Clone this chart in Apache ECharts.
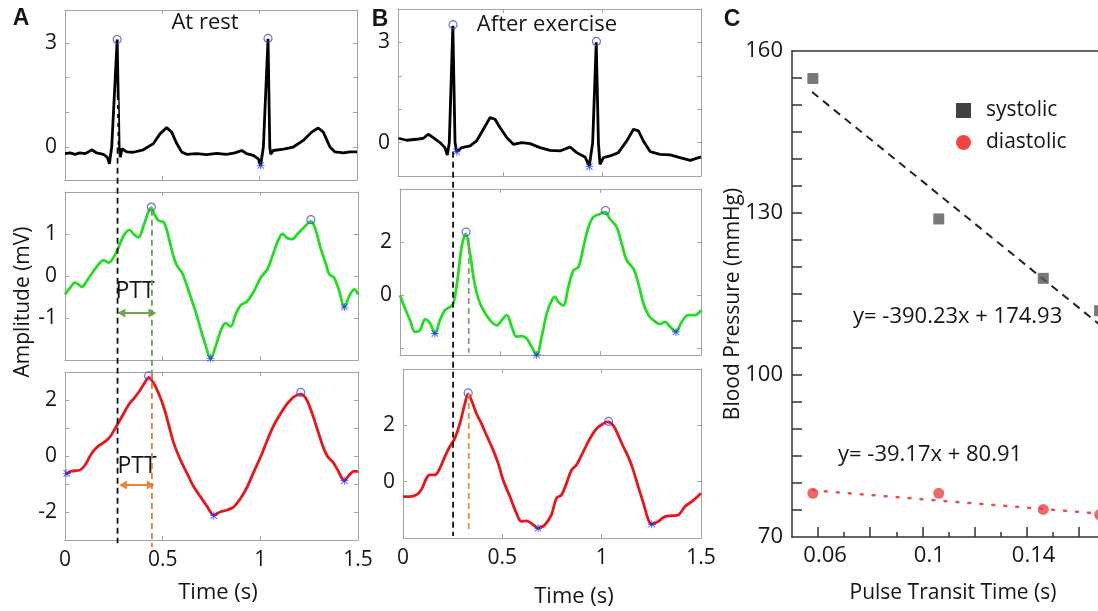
<!DOCTYPE html>
<html><head><meta charset="utf-8">
<script src="https://cdn.jsdelivr.net/npm/echarts@6/dist/echarts.min.js"></script>
<style>html,body{margin:0;padding:0;background:#fff}#c{width:1098px;height:611px}</style>
</head><body><div id="c"></div><script>
// ---------------- DATA ----------------
// Panel A – at rest  [time s, amplitude mV]
const ecgRest = [[0,-0.19],[0.026,-0.17],[0.051,-0.21],[0.077,-0.17],[0.103,-0.19],[0.12,-0.14],[0.137,-0.08],[0.163,-0.17],[0.197,-0.21],[0.217,-0.29],[0.228,-0.48],[0.24,0],[0.268,3.1],[0.278,0],[0.284,-0.29],[0.293,-0.05],[0.317,-0.14],[0.351,-0.15],[0.402,-0.08],[0.454,0.1],[0.488,0.38],[0.522,0.56],[0.548,0.43],[0.574,0.1],[0.599,-0.14],[0.625,-0.21],[0.676,-0.19],[0.728,-0.22],[0.779,-0.18],[0.83,-0.21],[0.873,-0.17],[0.908,-0.1],[0.933,-0.19],[0.967,-0.24],[0.993,-0.34],[1.005,-0.53],[1.019,0],[1.043,3.12],[1.052,0],[1.057,-0.21],[1.07,-0.1],[1.122,-0.06],[1.173,0],[1.224,0.19],[1.267,0.43],[1.301,0.55],[1.327,0.43],[1.361,0],[1.387,-0.14],[1.43,-0.17],[1.464,-0.14],[1.5,-0.14]];
const ecgRestPeaks = [[0.268,3.1],[1.043,3.13]];
const ecgRestStars = [[1.005,-0.53]];
const ppgRest = [[0,-0.44],[0.026,-0.28],[0.051,-0.16],[0.068,-0.2],[0.086,-0.26],[0.111,-0.12],[0.146,0.12],[0.18,0.32],[0.197,0.38],[0.223,0.32],[0.248,0.44],[0.274,0.68],[0.3,0.96],[0.33,1.1],[0.351,1.0],[0.377,0.92],[0.402,1.2],[0.442,1.62],[0.457,1.48],[0.479,1.32],[0.505,1.28],[0.522,1.08],[0.539,0.76],[0.557,0.44],[0.574,0.24],[0.599,0.08],[0.616,-0.12],[0.642,-0.48],[0.668,-0.84],[0.693,-1.24],[0.719,-1.64],[0.745,-1.96],[0.771,-1.68],[0.796,-1.32],[0.822,-1.12],[0.848,-1.2],[0.873,-0.92],[0.899,-0.7],[0.933,-0.6],[0.967,-0.36],[1.002,-0.04],[1.036,0.16],[1.062,0.48],[1.087,0.8],[1.113,1.0],[1.139,0.9],[1.164,0.88],[1.19,1.0],[1.224,1.16],[1.259,1.3],[1.284,1.08],[1.31,0.64],[1.336,0.28],[1.353,0.04],[1.378,-0.04],[1.404,-0.36],[1.43,-0.74],[1.455,-0.48],[1.481,-0.32],[1.5,-0.44]];
const ppgRestPeaks = [[0.442,1.64],[1.259,1.34]];
const ppgRestStars = [[0.745,-1.96],[1.43,-0.74]];
const redRest = [[0,-0.62],[0.009,-0.62],[0.034,-0.54],[0.077,-0.5],[0.103,-0.32],[0.137,0.1],[0.171,0.36],[0.205,0.51],[0.231,0.69],[0.257,0.99],[0.291,1.4],[0.325,1.82],[0.36,2.12],[0.385,2.36],[0.411,2.65],[0.428,2.81],[0.454,2.6],[0.479,2.24],[0.505,1.76],[0.531,1.11],[0.557,0.45],[0.591,-0.14],[0.625,-0.62],[0.659,-1.1],[0.693,-1.45],[0.728,-1.81],[0.762,-2.11],[0.796,-1.99],[0.83,-1.93],[0.865,-1.81],[0.899,-1.51],[0.933,-1.1],[0.967,-0.56],[1.002,-0.02],[1.036,0.57],[1.07,1.11],[1.104,1.52],[1.139,1.88],[1.173,2.12],[1.207,2.21],[1.233,2.06],[1.259,1.64],[1.293,0.93],[1.318,0.39],[1.344,-0.02],[1.37,-0.2],[1.396,-0.5],[1.43,-0.88],[1.455,-0.68],[1.481,-0.54],[1.5,-0.56]];
const redRestPeaks = [[0.428,2.86],[1.207,2.27]];
const redRestStars = [[0.009,-0.62],[0.762,-2.13],[1.43,-0.88]];

// Panel B – after exercise
const ecgEx = [[-0.028,0.13],[0.014,0.07],[0.064,0.1],[0.098,0.13],[0.123,0.25],[0.148,0.15],[0.182,0],[0.207,-0.15],[0.219,-0.37],[0.229,0],[0.247,3.5],[0.258,0],[0.266,-0.27],[0.292,-0.15],[0.334,-0.1],[0.367,0.05],[0.401,0.4],[0.435,0.75],[0.46,0.7],[0.485,0.45],[0.519,0.15],[0.552,-0.05],[0.595,0],[0.637,-0.03],[0.687,-0.15],[0.738,-0.23],[0.788,-0.25],[0.839,-0.13],[0.872,-0.3],[0.914,-0.43],[0.936,-0.7],[0.953,0],[0.971,3.0],[0.982,0],[0.99,-0.65],[1.007,-0.45],[1.041,-0.4],[1.083,-0.3],[1.125,0.05],[1.159,0.4],[1.184,0.35],[1.209,0.05],[1.243,-0.27],[1.293,-0.35],[1.344,-0.37],[1.394,-0.45],[1.445,-0.53],[1.5,-0.43]];
const ecgExPeaks = [[0.248,3.53],[0.972,3.03]];
const ecgExStars = [[0.266,-0.27],[0.936,-0.72]];
const ppgEx = [[0,0],[0.025,-0.5],[0.05,-0.94],[0.075,-1.38],[0.1,-1.31],[0.125,-0.91],[0.15,-1.06],[0.174,-1.44],[0.199,-0.94],[0.224,-0.56],[0.249,-0.44],[0.266,-0.31],[0.286,0.56],[0.307,1.81],[0.327,2.31],[0.349,1.56],[0.369,0.56],[0.39,-0.13],[0.415,-0.56],[0.449,-0.94],[0.482,-1.13],[0.507,-0.94],[0.532,-0.75],[0.557,-1.19],[0.581,-1.56],[0.606,-1.54],[0.631,-1.63],[0.656,-1.94],[0.681,-2.25],[0.706,-1.56],[0.731,-0.69],[0.756,-0.19],[0.772,-0.06],[0.789,-0.25],[0.814,-0.38],[0.839,0.31],[0.864,0.94],[0.889,1.06],[0.914,1.81],[0.939,2.56],[0.963,2.94],[0.997,3.06],[1.022,3.13],[1.046,2.88],[1.08,2.56],[1.105,1.94],[1.13,1.31],[1.163,1.0],[1.188,0.44],[1.213,-0.31],[1.238,-0.75],[1.262,-0.94],[1.296,-1.09],[1.321,-1.0],[1.346,-1.19],[1.375,-1.38],[1.404,-1.0],[1.437,-0.75],[1.47,-0.75],[1.5,-0.56]];
const ppgExPeaks = [[0.329,2.38],[1.024,3.19]];
const ppgExStars = [[0.174,-1.44],[0.681,-2.25],[1.375,-1.38]];
const redEx = [[0,-0.53],[0.034,-0.53],[0.067,-0.47],[0.092,-0.29],[0.118,0.12],[0.134,0.24],[0.16,0.24],[0.185,0.47],[0.21,0.88],[0.235,1.24],[0.26,1.53],[0.286,2.06],[0.311,2.76],[0.328,3.12],[0.345,2.88],[0.37,2.41],[0.395,2.06],[0.42,1.65],[0.454,1.12],[0.479,0.65],[0.504,0.06],[0.538,-0.53],[0.571,-1.12],[0.596,-1.41],[0.622,-1.39],[0.655,-1.53],[0.68,-1.65],[0.714,-1.53],[0.747,-1.18],[0.772,-0.59],[0.798,-0.47],[0.823,-0.06],[0.848,0.41],[0.873,0.59],[0.907,1.06],[0.941,1.53],[0.974,1.88],[1.008,2.06],[1.03,2.12],[1.058,2.0],[1.083,1.65],[1.109,1.24],[1.134,0.88],[1.159,0.41],[1.184,-0.18],[1.21,-0.76],[1.235,-1.35],[1.252,-1.51],[1.285,-1.41],[1.319,-1.24],[1.352,-1.21],[1.386,-1.18],[1.419,-0.88],[1.453,-0.71],[1.5,-0.41]];
const redExPeaks = [[0.328,3.15],[1.035,2.14]];
const redExStars = [[0.68,-1.65],[1.252,-1.51]];

// PTT markers (time of ECG R peak / pulse peak) and arrows
const pttRest = {ecg:0.269, pulse:0.445, arrowG:[0.289,0.448,-0.88], arrowR:[0.297,0.439,-1.04]};
const pttEx = {ecg:0.252, pulse:0.331};

// Panel C
const pttC = [0.058, 0.1063, 0.1464, 0.168];
const systolic = [154.9, 128.9, 117.9, 111.9];
const diastolic = [78.1, 78.1, 75.1, 74.1];
const sysFit = [[0.0577,152.4],[0.175,106.6]];
const diaFit = [[0.058,78.64],[0.175,74.06]];
const timeTicks = [0, 0.5, 1, 1.5];
const cYLabels = [70, 100, 130, 160];
const cXLabels = [0.06, 0.1, 0.14, 0.18];

// ---------------- BUILD ----------------
const FONT = '"Open Sans", "DejaVu Sans", sans-serif';
const FRAME = '#a3a3a3';
const TXT = '#151515';
const STAR = 'path://M8.9,0L11.1,0L11.1,20L8.9,20Z M0,8.9L20,8.9L20,11.1L0,11.1Z M2.8,1.2L18.8,17.2L17.2,18.8L1.2,2.8Z M17.2,1.2L18.8,2.8L2.8,18.8L1.2,17.2Z';
const grids = [], xAxes = [], yAxes = [], series = [];
function G(rect) { return Object.assign({containLabel:false, outerBoundsMode:'none'}, rect); }

function addPanel(rect, xr, yr, yTicks, yLabels, showX) {
  const gi = grids.length; grids.push(G(rect));
  const xi = xAxes.length, yi = yAxes.length;
  const line = {show:true, onZero:false, lineStyle:{color:FRAME, width:1}};
  const tickX = {show:true, inside:true, length:4, customValues:[0.5,1], lineStyle:{color:FRAME}};
  const tickY = {show:true, inside:true, length:4, customValues:yTicks, lineStyle:{color:FRAME}};
  xAxes.push({gridIndex:gi, type:'value', position:'bottom', min:xr[0], max:xr[1], splitLine:{show:false},
    axisLine:line, axisTick:tickX,
    axisLabel:{show:showX, customValues:timeTicks, margin:10, fontSize:21, fontFamily:FONT, color:TXT}});
  xAxes.push({gridIndex:gi, type:'value', position:'top', min:xr[0], max:xr[1], splitLine:{show:false},
    axisLine:line, axisTick:tickX, axisLabel:{show:false}});
  yAxes.push({gridIndex:gi, type:'value', position:'left', min:yr[0], max:yr[1], splitLine:{show:false},
    axisLine:line, axisTick:tickY,
    axisLabel:{customValues:yLabels, margin:8, fontSize:21, fontFamily:FONT, color:TXT}});
  yAxes.push({gridIndex:gi, type:'value', position:'right', min:yr[0], max:yr[1], splitLine:{show:false},
    axisLine:line, axisTick:tickY, axisLabel:{show:false}});
  return {xi, yi};
}
function addOverlay(rect, xr) {
  const gi = grids.length; grids.push(G(rect));
  const xi = xAxes.length, yi = yAxes.length;
  xAxes.push({gridIndex:gi, type:'value', min:xr[0], max:xr[1], show:false});
  yAxes.push({gridIndex:gi, type:'value', min:0, max:1, show:false});
  return {xi, yi};
}
function addCurve(ax, data, color, smooth) {
  series.push({type:'line', xAxisIndex:ax.xi, yAxisIndex:ax.yi, data, symbol:'none', smooth,
    lineStyle:{color, width:2.8}, z:2, silent:true});
}
function addMarks(ax, peaks, stars) {
  series.push({type:'scatter', xAxisIndex:ax.xi, yAxisIndex:ax.yi, data:peaks, symbol:'circle', symbolSize:8,
    itemStyle:{color:'rgba(0,0,0,0)', borderColor:'#4a4ad2', borderWidth:1.2}, z:4, silent:true});
  series.push({type:'scatter', xAxisIndex:ax.xi, yAxisIndex:ax.yi, data:stars, symbol:STAR, symbolSize:8,
    itemStyle:{color:'#2233ee'}, z:4, silent:true});
}
function addVLine(ax, t, f0, f1, color, dash, width) {
  series.push({type:'line', xAxisIndex:ax.xi, yAxisIndex:ax.yi, data:[[t,f0],[t,f1]], symbol:'none', clip:false,
    lineStyle:{color, width:width||1.8, type:dash}, z:6, silent:true});
}
function addArrow(ax, a, color) {
  series.push({type:'line', xAxisIndex:ax.xi, yAxisIndex:ax.yi, data:[], symbol:'none', silent:true,
    markLine:{silent:true, animation:false, symbol:['triangle','triangle'], symbolSize:[9,8],
      label:{show:false}, lineStyle:{color, width:2, type:'solid'},
      data:[[{coord:[a[0],a[2]]},{coord:[a[1],a[2]]}]]}});
}

// Panel A
const aTop = addPanel({left:65, top:10, width:292, height:170}, [0,1.5], [-0.95,3.95], [0,1,2,3], [0,3], false);
const aMid = addPanel({left:65, top:192, width:293, height:168}, [0,1.5], [-2,2], [-1,0,1], [-1,0,1], false);
const aBot = addPanel({left:65, top:372, width:293, height:168}, [0,1.5], [-3,3], [-2,-1,0,1,2], [-2,0,2], true);
// Panel B
const bTop = addPanel({left:398, top:9, width:303, height:167}, [-0.03,1.5], [-1,4], [0,1,2,3], [0,3], false);
const bMid = addPanel({left:400, top:189, width:301, height:166}, [0,1.5], [-2.25,4], [-2,0,2], [0,2], false);
const bBot = addPanel({left:403, top:369, width:298, height:169}, [0,1.5], [-2,4], [0,2], [0,2], true);

addCurve(aTop, ecgRest, '#000', false); addMarks(aTop, ecgRestPeaks, ecgRestStars);
addCurve(aMid, ppgRest, '#22dd22', 0.35); addMarks(aMid, ppgRestPeaks, ppgRestStars);
addCurve(aBot, redRest, '#e8161a', 0.35); addMarks(aBot, redRestPeaks, redRestStars);
addCurve(bTop, ecgEx, '#000', false); addMarks(bTop, ecgExPeaks, ecgExStars);
addCurve(bMid, ppgEx, '#22dd22', 0.35); addMarks(bMid, ppgExPeaks, ppgExStars);
addCurve(bBot, redEx, '#e8161a', 0.35); addMarks(bBot, redExPeaks, redExStars);

addArrow(aMid, pttRest.arrowG, '#6aa84f');
addArrow(aBot, pttRest.arrowR, '#e8843c');

// Dashed time markers (overlay spanning each column; y is fraction of column height)
const oA = addOverlay({left:65, top:10, width:293, height:530}, [0,1.5]);
const oB = addOverlay({left:403, top:9, width:298, height:529}, [0,1.5]);
addVLine(oA, pttRest.ecg, 0.83, 0.742, '#ffffff', [5,4], 1.5);
addVLine(oA, pttRest.ecg, 0.74, -0.006, '#111', [6,4]);
addVLine(oA, pttRest.pulse, 0.623, 0.317, '#6a9e4a', [6,4]);
addVLine(oA, pttRest.pulse, 0.315, -0.013, '#e07b39', [6,4]);
addVLine(oB, pttEx.ecg, 0.73, 0.004, '#111', [6,4]);
addVLine(oB, pttEx.pulse, 0.567, 0.35, '#8a9a7a', [6,4]);
addVLine(oB, pttEx.pulse, 0.274, 0.009, '#e0903a', [6,4]);

// Panel C
const gC = grids.length;
grids.push(G({left:792, top:51, width:391, height:486}));
const cx = xAxes.length, cy = yAxes.length;
const CL = '#333';
xAxes.push({gridIndex:gC, type:'value', position:'bottom', min:0.05, max:0.2, splitLine:{show:false},
  axisLine:{show:true, onZero:false, lineStyle:{color:CL, width:1.5}},
  axisTick:{show:true, inside:true, length:10, customValues:[0.06,0.08,0.1,0.12,0.14,0.16,0.18], lineStyle:{color:CL, width:1.5}},
  axisLabel:{customValues:cXLabels, margin:8, fontSize:22, fontFamily:FONT, color:TXT, padding:[0,0,0,14]}});
xAxes.push({gridIndex:gC, type:'value', position:'top', min:0.05, max:0.2, splitLine:{show:false},
  axisLine:{show:true, onZero:false, lineStyle:{color:CL, width:1.5}}, axisTick:{show:false}, axisLabel:{show:false}});
yAxes.push({gridIndex:gC, type:'value', position:'left', min:70, max:160, splitLine:{show:false},
  axisLine:{show:true, onZero:false, lineStyle:{color:CL, width:1.5}},
  axisTick:{show:true, inside:true, length:10, customValues:[75,80,85,90,95,100,105,110,115,120,125,130,135,140,145,150,155], lineStyle:{color:CL, width:1.5}},
  axisLabel:{customValues:cYLabels, margin:9, fontSize:22, fontFamily:FONT, color:TXT}});
// minor x ticks
const gC2 = grids.length;
grids.push(G({left:792, top:51, width:391, height:486}));
const cx2 = xAxes.length, cy2 = yAxes.length;
xAxes.push({gridIndex:gC2, type:'value', position:'bottom', min:0.05, max:0.2, splitLine:{show:false},
  axisLine:{show:false}, axisLabel:{show:false},
  axisTick:{show:true, inside:true, length:5, customValues:[0.07,0.09,0.11,0.13,0.15,0.17,0.19], lineStyle:{color:CL, width:1.5}}});
yAxes.push({gridIndex:gC2, type:'value', min:70, max:160, show:false});

series.push({type:'line', xAxisIndex:cx, yAxisIndex:cy, data:sysFit, symbol:'none', silent:true,
  lineStyle:{color:'#222', width:2, type:[8,6]}, z:2});
series.push({type:'line', xAxisIndex:cx, yAxisIndex:cy, data:diaFit, symbol:'none', silent:true,
  lineStyle:{color:'#e85050', width:2.5, type:[2,10], cap:'round'}, z:2});
series.push({name:'systolic', type:'scatter', xAxisIndex:cx, yAxisIndex:cy, data:pttC.map((x,i)=>[x,systolic[i]]),
  symbol:'rect', symbolSize:11, itemStyle:{color:'#575757'}, z:3, clip:false});
series.push({name:'diastolic', type:'scatter', xAxisIndex:cx, yAxisIndex:cy, data:pttC.map((x,i)=>[x,diastolic[i]]),
  symbol:'circle', symbolSize:11, itemStyle:{color:'#e84545'}, z:3, clip:false});

function txt(text, x, y, opt) {
  return Object.assign({type:'text', x, y, silent:true, style:Object.assign({text, fill:TXT, font:'22px ' + FONT,
    textAlign:'center', textVerticalAlign:'middle'}, opt && opt.style)}, opt && opt.el);
}
const graphics = [
  txt('A', 21, 19, {style:{font:'bold 23px "Liberation Sans", Arial, sans-serif'}}),
  txt('B', 380, 20, {style:{font:'bold 23px "Liberation Sans", Arial, sans-serif'}}),
  txt('C', 732, 20, {style:{font:'bold 23px "Liberation Sans", Arial, sans-serif'}}),
  txt('At rest', 205, 23),
  txt('After exercise', 547, 25),
  txt('Amplitude (mV)', 23, 302, {style:{font:'21px ' + FONT}, el:{rotation:Math.PI/2}}),
  txt('Time (s)', 218, 593),
  txt('Time (s)', 574, 597),
  txt('PTT', 135, 291, {style:{font:'23px ' + FONT}}),
  txt('PTT', 137, 466, {style:{font:'23px ' + FONT}}),
  txt('Blood Pressure (mmHg)', 733, 304, {style:{font:'21px ' + FONT}, el:{rotation:Math.PI/2}}),
  txt('Pulse Transit Time (s)', 953, 593, {style:{font:'21px ' + FONT}}),
  txt('y= -390.23x + 174.93', 853, 317, {style:{textAlign:'left'}}),
  txt('y= -39.17x + 80.91', 838, 455, {style:{textAlign:'left'}})
];

const option = {
  animation:false,
  backgroundColor:'#fff',
  textStyle:{fontFamily:FONT},
  grid:grids, xAxis:xAxes, yAxis:yAxes, series,
  legend:{orient:'vertical', left:951, top:95, itemWidth:15, itemHeight:15, itemGap:11, selectedMode:false,
    textStyle:{fontSize:21, fontFamily:FONT, color:TXT, padding:[0,0,0,10]},
    data:[{name:'systolic', icon:'rect', itemStyle:{color:'#111'}}, {name:'diastolic', icon:'circle', itemStyle:{color:'#f01515'}}]},
  graphic:graphics
};
const chart = echarts.init(document.getElementById('c'), null, {renderer:'canvas'});
chart.setOption(option);
</script></body></html>
